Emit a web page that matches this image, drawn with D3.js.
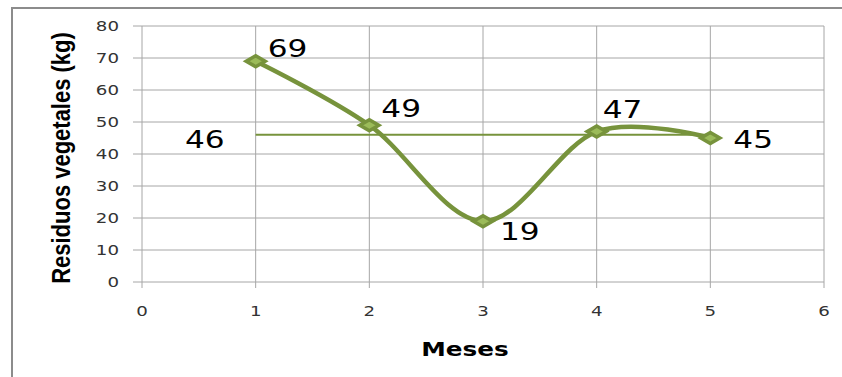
<!DOCTYPE html>
<html>
<head>
<meta charset="utf-8">
<script src="https://cdn.jsdelivr.net/npm/d3@7"></script>
<style>
  body { margin: 0; background: #fff; }
  svg { display: block; }
</style>
</head>
<body>
<svg id="chart" width="842" height="377"></svg>
<script>
// data
const months = [1, 2, 3, 4, 5];
const residuos = [69, 49, 19, 47, 45];
const promedio = 46;
const xTicks = [0, 1, 2, 3, 4, 5, 6];
const yTicks = [0, 10, 20, 30, 40, 50, 60, 70, 80];

const svg = d3.select('#chart');
const green = '#77933c';
const light = '#9bbb59';
const grid = '#a6a6a6';
const font = 'DejaVu Sans, Verdana, sans-serif';
const stretch = 1.3; // the original picture is widened sideways

// outer frame (only top and left edges show)
svg.append('path')
    .attr('d', 'M12,377 V8 H842')
    .attr('fill', 'none')
    .attr('stroke', '#8c8c8c')
    .attr('stroke-width', 2);

const x = d3.scaleLinear().domain([0, 6]).range([142, 824]);
const y = d3.scaleLinear().domain([0, 80]).range([282, 26]);

// horizontal grid lines (run a bit left as tick marks)
svg.append('g').selectAll('line')
    .data(yTicks)
    .join('line')
    .attr('x1', 133).attr('x2', x(6))
    .attr('y1', d => y(d)).attr('y2', d => y(d))
    .attr('stroke', grid).attr('stroke-width', 1);

// vertical grid lines (run a bit below as tick marks)
svg.append('g').selectAll('line')
    .data(xTicks)
    .join('line')
    .attr('x1', d => x(d)).attr('x2', d => x(d))
    .attr('y1', y(80)).attr('y2', 288)
    .attr('stroke', grid).attr('stroke-width', 1);

function wideText(g, px, py, txt, size, anchor, weight) {
    return g.append('g')
        .attr('transform', `translate(${px},${py}) scale(${stretch},1)`)
        .append('text')
        .attr('text-anchor', anchor)
        .attr('font-family', font)
        .attr('font-weight', weight || 'normal')
        .attr('font-size', size)
        .attr('fill', '#000')
        .text(txt);
}

const tickG = svg.append('g');
yTicks.forEach(d => wideText(tickG, 119, y(d) + 5, d, 14, 'end').attr('fill', '#333'));
xTicks.forEach(d => wideText(tickG, x(d), 316, d, 14, 'middle').attr('fill', '#333'));

// axis titles
svg.append('text')
    .attr('transform', 'translate(70,158) scale(1.15,1) rotate(-90)')
    .attr('text-anchor', 'middle')
    .attr('font-family', 'Liberation Sans Narrow, Arial Narrow, sans-serif')
    .attr('font-weight', 'bold')
    .attr('font-size', 22)
    .attr('fill', '#000')
    .text('Residuos vegetales  (kg)');

wideText(svg, 465, 356, 'Meses', 19, 'middle', 'bold');

// average line
svg.append('line')
    .attr('x1', x(months[0])).attr('x2', x(months[months.length - 1]))
    .attr('y1', y(promedio)).attr('y2', y(promedio))
    .attr('stroke', green).attr('stroke-width', 2);

// smoothed series
const pts = months.map((m, i) => [m, residuos[i]]);
const line = d3.line()
    .x(d => x(d[0]))
    .y(d => y(d[1]))
    .curve(d3.curveCardinal.tension(0));

svg.append('path')
    .datum(pts)
    .attr('d', line)
    .attr('fill', 'none')
    .attr('stroke', green)
    .attr('stroke-width', 4.5)
    .attr('stroke-linejoin', 'round');

// diamond markers
svg.append('g').selectAll('path')
    .data(pts)
    .join('path')
    .attr('transform', d => `translate(${x(d[0])},${y(d[1])})`)
    .attr('d', 'M0,-5.5 L9.5,0 L0,5.5 L-9.5,0 Z')
    .attr('fill', light)
    .attr('stroke', green)
    .attr('stroke-width', 3.5)
    .attr('stroke-linejoin', 'miter');

// data labels: left edge / baseline offsets from each point
const labelOffsets = [[12, -4], [12, -8], [17, 19], [6, -14], [23, 10]];
const labG = svg.append('g');
pts.forEach((d, i) => wideText(labG, x(d[0]) + labelOffsets[i][0],
    y(d[1]) + labelOffsets[i][1], d[1], 24, 'start'));

wideText(svg, 185, y(promedio) + 13, promedio, 24, 'start');
</script>
</body>
</html>
